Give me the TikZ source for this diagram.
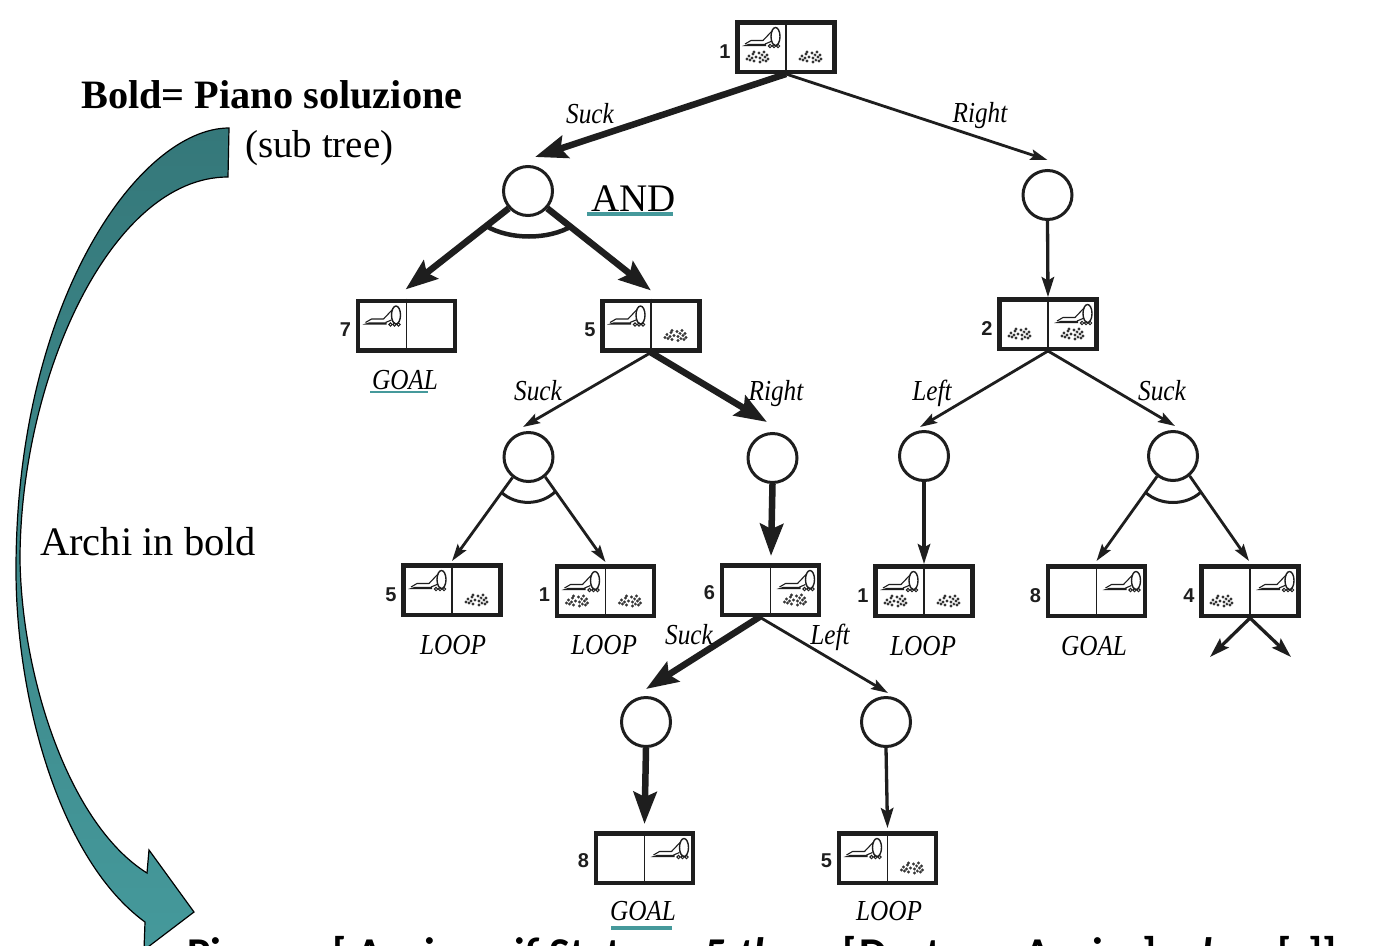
\documentclass[tikz,border=0pt]{standalone}
\usepackage{fontspec}
\setmainfont{Liberation Serif}
\newfontfamily\numfont{Liberation Sans}
\newfontfamily\botfont{Carlito}
\usetikzlibrary{arrows.meta,shadings}
\definecolor{tealA}{HTML}{35787A}
\definecolor{tealB}{HTML}{45999B}
\definecolor{ink}{HTML}{1E1E1E}
\newcommand{\fs}[1]{\fontsize{#1}{#1}\selectfont}
\newcommand{\gap}[1]{\kern #1pt\relax}
\tikzset{
  x=1pt,y=-1pt,
  statebox/.style={draw=ink,line width=4.5pt,minimum width=97pt,minimum height=49.5pt,inner sep=0pt,fill=white},
  divider/.style={draw=ink,line width=1.6pt},
  numlab/.style={font=\numfont\bfseries\fs{20},text=ink,inner sep=0pt},
  orn/.style={circle,draw=ink,line width=3pt,minimum size=49pt,inner sep=0pt,fill=white},
  thinedge/.style={draw=ink,line width=2.8pt,-{Stealth[length=17pt,width=10.5pt,inset=3pt]}},
  midedge/.style={draw=ink,line width=3.3pt,-{Stealth[length=20pt,width=12.5pt,inset=3.5pt]}},
  boldedge/.style={draw=ink,line width=6.5pt,-{Stealth[length=32pt,width=23pt,inset=5pt]}},
  andarc/.style={draw=ink,line width=3pt},
  act/.style={font=\fs{29}\itshape,xscale=.87,text=black,inner sep=0pt,anchor=base},
  slide/.style={font=\fs{39},text=black,inner sep=0pt,anchor=base west},
  uline/.style={draw=tealB},
  vac/.pic={
    \fill[ink] (0,0)--(24,0)--(24,-2.2)--(7,-2.2)--cycle;
    \draw[ink,line width=1.1pt,line join=round] (3,-2)--(9,-5.5)--(21,-5.5)--(30,-15);
    \draw[ink,line width=1.4pt] (33.5,-9.5) ellipse (4.5pt and 9pt);
    \draw[ink,line width=1.1pt] (23,-2)--(29,-4.5);
    \foreach \a in {28,32,36}{\draw[ink,line width=1pt] (\a,0) circle (1.7pt);}
  },
  dirt/.pic={
    \foreach \a/\b in {-10/2,-8/-1,-7/3,-5/1,-4/-3,-3/-5,-3/4,-1/0,2/-4,3/1,3/5,5/-2,6/3,7/-5,8/0,9/4,10/-2,11/2}{
      \fill[ink!90] (\a,\b) circle (1.55pt);}
    \foreach \a/\b in {-6/-1,4/-1,7/2}{\fill[white] (\a,\b) circle (.6pt);}
  }
}
\newcommand{\stbox}[5]{%
  \node[statebox] (#1) at (#2,#3) {};
  \draw[divider] (#1.north) -- (#1.south);
  \node[numlab,anchor=center] (#1n) at ([shift={(-61,#4)}]#1.center) {#5};
}
\newcommand{\vacL}[1]{\pic at ([shift={(-44,-1)}]#1.center) {vac};}
\newcommand{\vacR}[1]{\pic at ([shift={(6,-1)}]#1.center) {vac};}
\newcommand{\dirtL}[1]{\pic at ([shift={(-29,10)}]#1.center) {dirt};}
\newcommand{\dirtR}[1]{\pic at ([shift={(24,10)}]#1.center) {dirt};}
\begin{document}
\begin{tikzpicture}
\useasboundingbox (0,0) rectangle (1386,945);

% block arrow
\path[draw=black,line width=1.2pt,top color=tealA,bottom color=tealB,shading angle=0]
  (229,128) .. controls (140,128) and (16,300) .. (16,570)
  .. controls (16,700) and (60,860) .. (145,922)
  -- (144,950) -- (194,912) -- (149,850) -- (147,873)
  .. controls (70,825) and (22,680) .. (20,560)
  .. controls (20,380) and (110,177) .. (228,177) -- cycle;

% states
\stbox{s1}{786}{47}{5}{1}
\stbox{s7}{406.5}{325.5}{4}{7}
\stbox{s5}{651}{325.5}{4}{5}
\stbox{s2}{1048}{324}{5}{2}
\stbox{s5b}{452}{590}{5}{5}
\stbox{s1b}{605.5}{591}{4}{1}
\stbox{s6}{770.5}{590}{3}{6}
\stbox{s1c}{924}{591}{5}{1}
\stbox{s8}{1096.5}{591}{5}{8}
\stbox{s4}{1250}{591}{5}{4}
\stbox{s8b}{644.5}{858}{3}{8}
\stbox{s5c}{887.5}{858}{3}{5}

\vacL{s1}\dirtL{s1}\dirtR{s1}
\vacL{s7}
\vacL{s5}\dirtR{s5}
\dirtL{s2}\vacR{s2}\dirtR{s2}
\vacL{s5b}\dirtR{s5b}
\vacL{s1b}\dirtL{s1b}\dirtR{s1b}
\vacR{s6}\dirtR{s6}
\vacL{s1c}\dirtL{s1c}\dirtR{s1c}
\vacR{s8}
\dirtL{s4}\vacR{s4}
\vacR{s8b}
\vacL{s5c}\dirtR{s5c}

% or-nodes
\node[orn] (o1) at (528,191) {};
\node[orn] (o2) at (1047.5,195) {};
\node[orn] (o3) at (528.5,457) {};
\node[orn] (o4) at (772.5,458) {};
\node[orn] (o5) at (924,456) {};
\node[orn] (o6) at (1173,456) {};
\node[orn] (o7) at (646,722) {};
\node[orn] (o8) at (886,722) {};

\coordinate (e1) at (1210,657);
\coordinate (e2) at (1291,657);

% edges
\draw[boldedge] (s1.south) -- ([shift={(7,-8)}]o1.north);
\draw[thinedge] (s1.south) -- ([shift={(0,-9)}]o2.north);
\draw[boldedge] (o1.222) -- ([shift={(-1,-9)}]s7.north);
\draw[boldedge] (o1.318) -- ([shift={(0,-8)}]s5.north);
\draw[midedge] (o2.south) -- (s2.north);
\draw[thinedge] (s5.south) -- ([shift={(-5.5,-4)}]o3.north);
\draw[boldedge] (s5.south) -- ([shift={(-5.5,-10)}]o4.north);
\draw[thinedge] (s2.south) -- ([shift={(-4,-3)}]o5.north);
\draw[thinedge] (s2.south) -- ([shift={(2,-4)}]o6.north);
\draw[thinedge] (o3.232) -- ([shift={(0,-2)}]s5b.north);
\draw[thinedge] (o3.310) -- ([shift={(0,-2)}]s1b.north);
\draw[boldedge] (o4.south) -- ([shift={(.5,-7)}]s6.north);
\draw[midedge] (o5.south) -- (s1c.north);
\draw[thinedge] (o6.232) -- ([shift={(0,-3)}]s8.north);
\draw[thinedge] (o6.310) -- ([shift={(-1,-3)}]s4.north);
\draw[midedge] (s4.south) -- (e1);
\draw[midedge] (s4.south) -- (e2);
\draw[boldedge] ([xshift=-11pt]s6.south) -- ([yshift=7pt]o7.north);
\draw[thinedge] ([xshift=-11pt]s6.south) -- ([shift={(2,-3)}]o8.north);
\draw[boldedge] (o7.south) -- ([yshift=7pt]s8b.north);
\draw[midedge] (o8.south) -- ([yshift=3pt]s5c.north);

% AND arcs
\draw[andarc,line width=4.5pt] (486,226) .. controls (510,240) and (548,240) .. (572,226);
\draw[andarc] (501,492) .. controls (516,506) and (541,506) .. (556,491);
\draw[andarc] (1145,492) .. controls (1160,506) and (1186,506) .. (1201,492);

% edge and outcome labels
\node[act] (l1) at (590,123) {Suck};
\node[act] (l2) at (980,122) {Right};
\node[act] (l3) at (405,389) {GOAL};
\node[act] (l4) at (538,400) {Suck};
\node[act] (l5) at (776,400) {Right};
\node[act] (l6) at (932,400) {Left};
\node[act] (l7) at (1162,400) {Suck};
\node[act] (l8) at (453,654) {LOOP};
\node[act] (l9) at (604,654) {LOOP};
\node[act] (l10) at (689,644) {Suck};
\node[act] (l11) at (830,644) {Left};
\node[act] (l12) at (923,655) {LOOP};
\node[act] (l13) at (1094,655) {GOAL};
\node[act] (l14) at (643,920) {GOAL};
\node[act] (l15) at (889,920) {LOOP};

% slide annotations
\node[slide,font=\fs{40.3}\bfseries] (t1) at (81,108) {Bold= Piano soluzione};
\node[slide] (t2) at (245,157) {(sub tree)};
\node[slide] (t3) at (591,211) {AND};
\node[slide,font=\fs{40.5}] (t4) at (40,555) {Archi in bold};
\draw[uline,line width=4pt] (587,214) -- (673,214);
\draw[uline,line width=2pt] (370,392) -- (428,392);
\draw[uline,line width=4pt] (611,928) -- (672,928);

\begin{scope}
\clip (0,0) rectangle (1386,945);
\node[inner sep=0pt,anchor=base west,text=black,font=\botfont\bfseries\fs{44}] (t5) at (187,968)
  {Piano = [ Aspira ;\gap{9} \textit{if} Stato\gap{9} =\gap{10} 5 \textit{then}\gap{11} [\gap{-7} Destra ,\gap{15} Aspira\gap{-7} ]\gap{13} \textit{else}\gap{17} [\gap{6} ]]};
\end{scope}
\end{tikzpicture}
\end{document}
